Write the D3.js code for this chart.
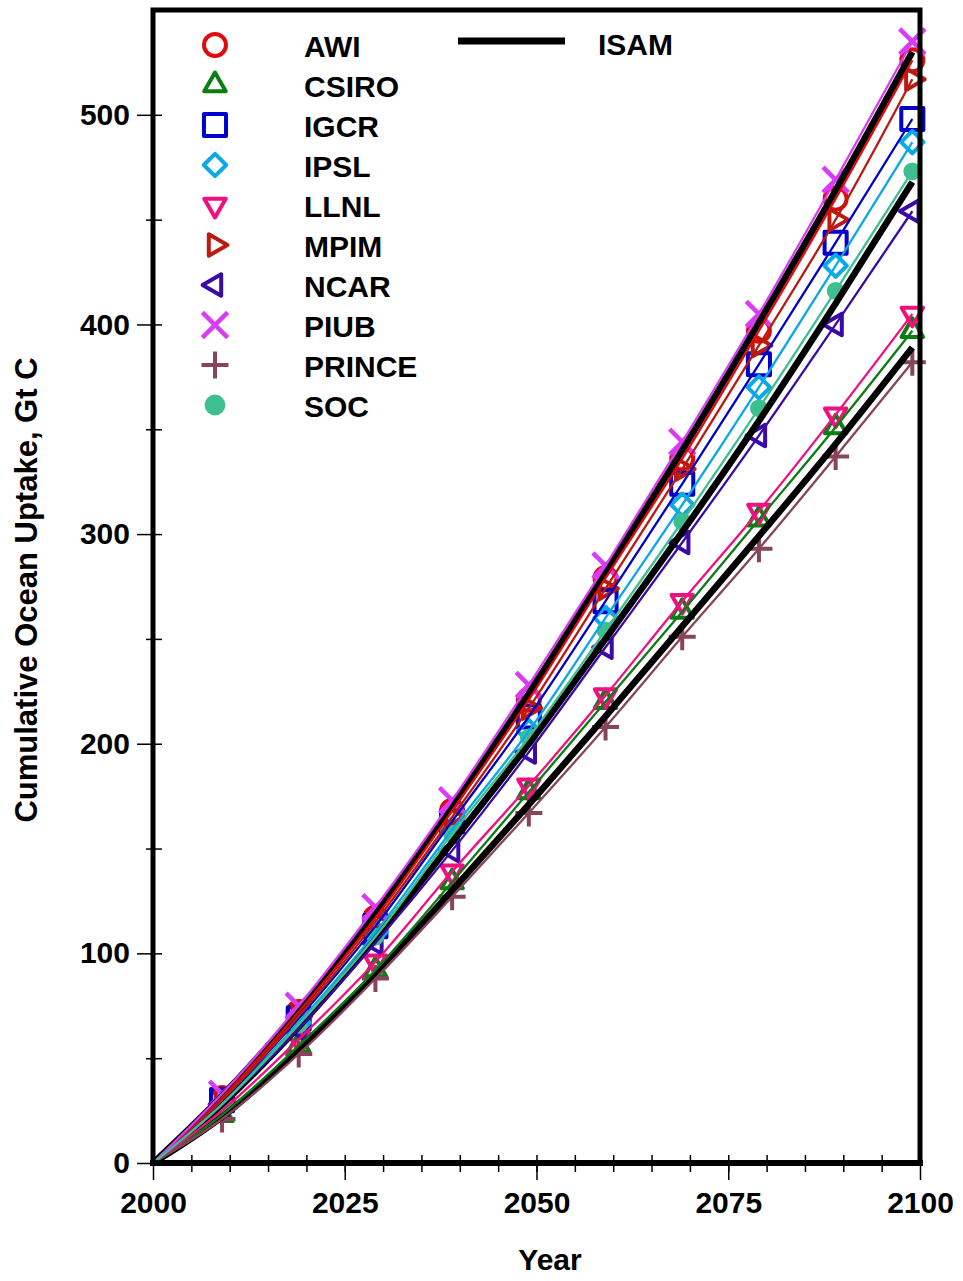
<!DOCTYPE html>
<html>
<head>
<meta charset="utf-8">
<script src="https://cdn.jsdelivr.net/npm/d3@7"></script>
<style>
body { margin: 0; background: #fff; }
text { font-family: "Liberation Sans", Arial, sans-serif; font-weight: bold; fill: #000; }
</style>
</head>
<body>
<svg width="963" height="1281"></svg>
<script>

// years of the marked points (the curves start at 2000 with zero uptake)
var years = [2000, 2009, 2019, 2029, 2039, 2049, 2059, 2069, 2079, 2089, 2099];

var awi    = [0, 31, 72, 117, 168, 221, 279, 336, 397, 460, 526];
var csiro  = [0, 23, 56,  92, 134, 177, 220, 263, 307, 351, 397];
var igcr   = [0, 30, 69, 113, 163, 213, 268, 324, 381, 439, 498];
var ipsl   = [0, 28, 67, 110, 159, 206, 260, 314, 370, 428, 487];
var llnl   = [0, 25, 59,  96, 139, 180, 223, 268, 311, 357, 405];
var mpim   = [0, 30, 70, 115, 165, 217, 274, 331, 390, 450, 517];
var ncar   = [0, 28, 64, 105, 149, 196, 246, 296, 347, 400, 454];
var piub   = [0, 33, 75, 122, 173, 228, 285, 344, 405, 469, 535];
var prince = [0, 21, 52,  88, 127, 167, 208, 251, 293, 337, 382];
var soc    = [0, 28, 66, 108, 157, 203, 254, 306, 360, 416, 473];

// ISAM drawn three times (black, no markers)
var isamHigh = [0, 32, 73, 119, 170, 224, 282, 340, 401, 464, 530];
var isamMid  = [0, 28, 65, 107, 153, 200, 250, 301, 354, 410, 468];
var isamLow  = [0, 22, 54,  90, 130, 171, 213, 256, 299, 343, 389];

var xTicks = [2000, 2025, 2050, 2075, 2100];
var yTicks = [0, 100, 200, 300, 400, 500];

var models = [
	{name: "AWI",    values: awi,    color: "#e00a0a", shape: "circle"},
	{name: "CSIRO",  values: csiro,  color: "#0b7d12", shape: "up"},
	{name: "IGCR",   values: igcr,   color: "#0000cc", shape: "square"},
	{name: "IPSL",   values: ipsl,   color: "#0aa8e8", shape: "diamond"},
	{name: "LLNL",   values: llnl,   color: "#f0107f", shape: "down"},
	{name: "MPIM",   values: mpim,   color: "#bb1a10", shape: "right"},
	{name: "NCAR",   values: ncar,   color: "#3a0aa8", shape: "left"},
	{name: "PIUB",   values: piub,   color: "#d93cf5", shape: "times"},
	{name: "PRINCE", values: prince, color: "#884458", shape: "plus"},
	{name: "SOC",    values: soc,    color: "#3dbf8f", shape: "dot"}
];

var svg = d3.select("svg");

var x = d3.scaleLinear().domain([2000, 2100]).range([153, 920]),
	y = d3.scaleLinear().domain([0, 550]).range([1163, 10]);

var line = d3.line()
	.x(function(d, i){ return x(years[i]); })
	.y(function(d){ return y(d); })
	.curve(d3.curveMonotoneX);

// ---- axes
var xMinor = svg.append("g")
	.attr("transform", "translate(0,1163)")
	.call(d3.axisBottom(x).tickValues(d3.range(2005, 2100, 5)).tickFormat(""));
xMinor.selectAll(".tick line").attr("y1", -8).attr("y2", 9).attr("stroke-width", 1.5);

var xMajor = svg.append("g")
	.attr("transform", "translate(0,1163)")
	.call(d3.axisBottom(x).tickValues(xTicks).tickFormat(d3.format("d")).tickSize(17).tickPadding(12));
xMajor.selectAll(".tick line").attr("stroke-width", 1.5);

var yMinor = svg.append("g")
	.attr("transform", "translate(153,0)")
	.call(d3.axisLeft(y).tickValues(d3.range(50, 500, 100)).tickFormat(""));
yMinor.selectAll(".tick line").attr("x1", 9).attr("x2", -7).attr("stroke-width", 1.5);

var yMajor = svg.append("g")
	.attr("transform", "translate(153,0)")
	.call(d3.axisLeft(y).tickValues(yTicks).tickSize(16).tickPadding(7));
yMajor.selectAll(".tick line").attr("x1", 9).attr("stroke-width", 1.5);

svg.selectAll(".domain").remove();
svg.selectAll(".tick text").style("font-size", "30px").style("font-family", "Liberation Sans, Arial, sans-serif").style("font-weight", "bold");

// ---- markers
function marker(sel, m, small){
	var sym, rot = 0, filled = false;
	if (m.shape == "circle") sym = d3.symbol(d3.symbolCircle, 380);
	else if (m.shape == "square") sym = d3.symbol(d3.symbolSquare2, 620);
	else if (m.shape == "diamond") sym = d3.symbol(d3.symbolDiamond2, 320);
	else if (m.shape == "times") sym = d3.symbol(d3.symbolTimes, 420);
	else if (m.shape == "plus") sym = d3.symbol(d3.symbolPlus, 240);
	else if (m.shape == "dot") { sym = d3.symbol(d3.symbolCircle, small ? 250 : 340); filled = true; }
	else {
		sym = d3.symbol(d3.symbolTriangle2, 330);
		rot = {up: 0, down: 180, right: 90, left: -90}[m.shape];
	}
	sel.append("path")
		.attr("d", sym())
		.attr("fill", filled ? m.color : "none")
		.attr("stroke", filled ? "none" : m.color)
		.attr("stroke-width", m.shape == "times" ? 4.5 : 4)
		.attr("stroke-linejoin", "round")
		.attr("transform", "rotate(" + rot + ")");
}

models.forEach(function(m){
	var pts = svg.append("g").selectAll("g")
		.data(m.values.slice(1))
		.join("g")
		.attr("transform", function(d, i){ return "translate(" + x(years[i + 1]) + "," + y(d) + ")"; });
	pts.each(function(){ marker(d3.select(this), m, true); });
});

// ---- curves (drawn over the markers)
[isamHigh, isamMid, isamLow].forEach(function(v){
	svg.append("path")
		.attr("d", line(v))
		.attr("fill", "none")
		.attr("stroke", "#000")
		.attr("stroke-width", 6.5);
});

models.forEach(function(m){
	svg.append("path")
		.attr("d", line(m.values))
		.attr("fill", "none")
		.attr("stroke", m.color)
		.attr("stroke-width", 2.3);
});

// ---- frame
svg.append("rect")
	.attr("x", 153).attr("y", 10)
	.attr("width", 920 - 153).attr("height", 1163 - 10)
	.attr("fill", "none")
	.attr("stroke", "#000")
	.attr("stroke-width", 5);
svg.append("line")
	.attr("x1", 150).attr("x2", 923)
	.attr("y1", 1163).attr("y2", 1163)
	.attr("stroke", "#000").attr("stroke-width", 6);

// ---- legend
var leg = svg.append("g");
models.forEach(function(m, i){
	var ly = 57 + i * 40;
	var g = leg.append("g").attr("transform", "translate(215," + (ly - 12) + ")");
	marker(g, m, false);
	leg.append("text")
		.attr("x", 304).attr("y", ly)
		.style("font-size", "30px")
		.text(m.name);
});
leg.append("line")
	.attr("x1", 458).attr("x2", 565)
	.attr("y1", 41).attr("y2", 41)
	.attr("stroke", "#000").attr("stroke-width", 7);
leg.append("text")
	.attr("x", 598).attr("y", 55)
	.style("font-size", "30px")
	.text("ISAM");

// ---- titles
svg.append("text")
	.attr("x", 550).attr("y", 1270)
	.attr("text-anchor", "middle")
	.style("font-size", "30px")
	.text("Year");

svg.append("text")
	.attr("transform", "translate(37,590) rotate(-90)")
	.attr("text-anchor", "middle")
	.style("font-size", "31px")
	.text("Cumulative Ocean Uptake, Gt C");

</script>
</body>
</html>
